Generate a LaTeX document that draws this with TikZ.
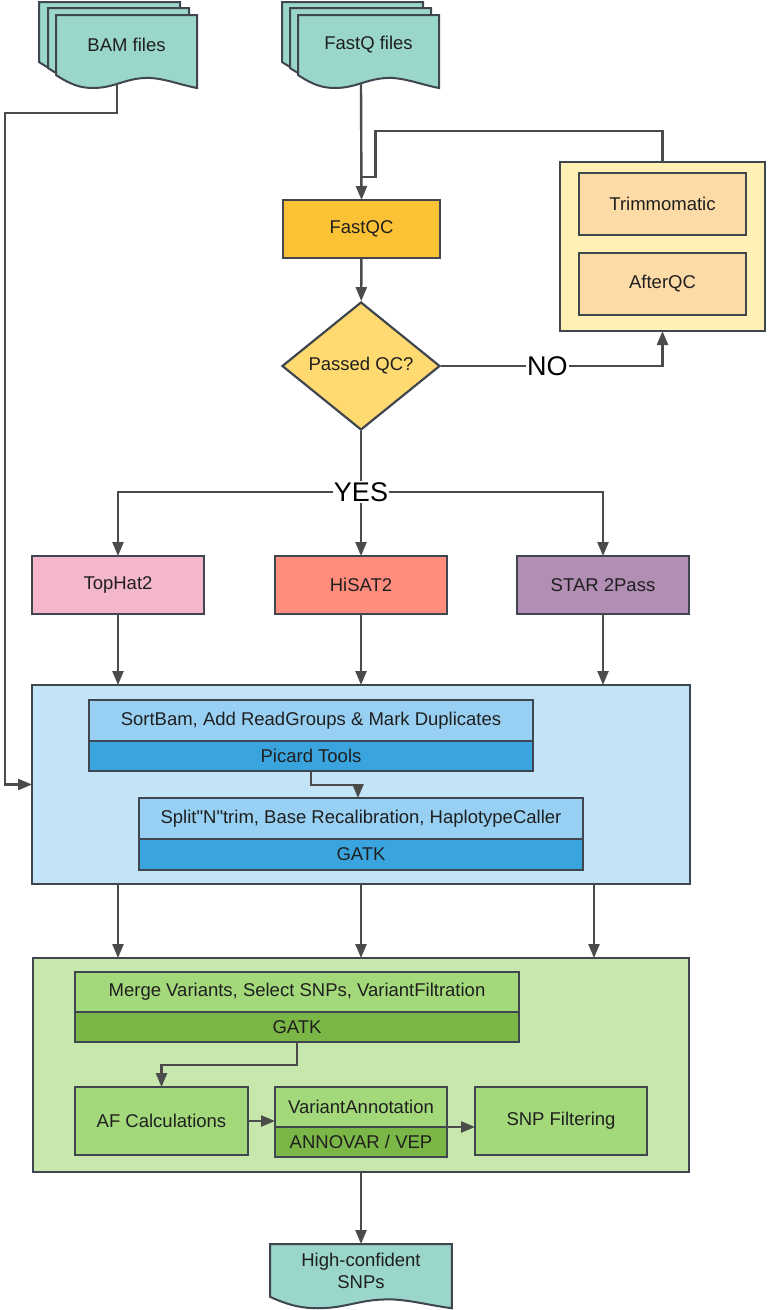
\documentclass[tikz,border=0pt]{standalone}
\usepackage{fontspec}
\setmainfont{Liberation Sans}[Ligatures=TeXOff]
\usetikzlibrary{arrows.meta,positioning,shapes.geometric}

\definecolor{edge}{HTML}{3F4650}
\definecolor{wire}{HTML}{4B4B4B}
\definecolor{docteal}{HTML}{9AD6CA}
\definecolor{qcorange}{HTML}{FCC236}
\definecolor{qcyellow}{HTML}{FFDA70}
\definecolor{trimpale}{HTML}{FFF1B5}
\definecolor{trimpeach}{HTML}{FDDBA7}
\definecolor{mappink}{HTML}{F3B6CA}
\definecolor{mapsalmon}{HTML}{FF8C7C}
\definecolor{mapviolet}{HTML}{B28EB5}
\definecolor{bluepale}{HTML}{C3E3F6}
\definecolor{bluelight}{HTML}{98D0F3}
\definecolor{bluedark}{HTML}{3AA4DE}
\definecolor{greenpale}{HTML}{C7E7AC}
\definecolor{greenlight}{HTML}{A3D97B}
\definecolor{greendark}{HTML}{7BB747}

% one wavy file sheet, 141 x 73 before scaling
\newcommand{\filesheet}[1]{\draw[docshape,#1] (0,0) -- (141,0) -- (141,73)
  .. controls (125,70) and (110,64) .. (95,63)
  .. controls (70,62) and (60,73) .. (37,73)
  .. controls (25,73) and (15,70) .. (0,60) -- cycle;}

\begin{document}
\begin{tikzpicture}[
    x=1pt, y=-1pt,
    box/.style={draw=edge, line width=2.2pt, outer sep=0pt, inner sep=2pt, align=center, text=black!88, font=\fontsize{18.5}{22}\selectfont},
    mapper/.style={box, minimum width=172pt, minimum height=58pt},
    trimbox/.style={box, fill=trimpeach, minimum width=167pt, minimum height=62pt},
    wide/.style={box, minimum width=444pt},
    stepbox/.style={box, fill=greenlight, minimum width=172pt, minimum height=68pt},
    decision/.style={diamond, draw=edge, line width=2.2pt, fill=qcyellow, inner sep=0pt, minimum width=158pt, minimum height=128pt, text=black!88, font=\fontsize{18.5}{22}\selectfont},
    docshape/.style={draw=edge, line width=2pt, fill=docteal, line join=miter},
    doctext/.style={align=center, inner sep=0pt, outer sep=0pt, text=black!88, font=\fontsize{18.5}{22}\selectfont},
    answer/.style={fill=white, inner sep=1pt, font=\fontsize{27}{30}\selectfont},
    link/.style={draw=wire, line width=2.4pt},
    arrow/.style={link, -{Triangle[length=14pt,width=11pt]}}
  ]
    \useasboundingbox (0,0) rectangle (771,1310);

    % input files
    \filesheet{shift={(39,2)}}
    \filesheet{shift={(48,8)}}
    \filesheet{shift={(56,15)}}
    \node[doctext, minimum width=141pt, minimum height=60pt] (bam) at (126.5,45) {BAM files};
    \filesheet{shift={(282,2)}}
    \filesheet{shift={(290,8)}}
    \filesheet{shift={(298,15)}}
    \node[doctext, minimum width=141pt, minimum height=60pt] (fastq) at (368.5,45) {FastQ files};
    \coordinate (bamout) at (117,84);
    \coordinate (fastqout) at (361,84);

    % quality control
    \node[box, fill=qcorange, minimum width=157pt, minimum height=58pt] (fastqc) at (361.5,229) {FastQC};
    \node[decision] (passed) at (361,366) {Passed QC?};
    \node[box, fill=trimpale, minimum width=205pt, minimum height=169pt] (trimgrp) at (662.5,246.5) {};
    \node[trimbox] (trim) at (662.5,204) {Trimmomatic};
    \node[trimbox, below=18pt of trim] (afterqc) {AfterQC};

    % aligners
    \node[mapper, fill=mappink] (tophat) at (118,585) {TopHat2};
    \node[mapper, fill=mapsalmon, right=71pt of tophat] (hisat) {HiSAT2};
    \node[mapper, fill=mapviolet, right=70pt of hisat] (star) {STAR 2Pass};

    % variant calling
    \node[box, fill=bluepale, minimum width=658pt, minimum height=199pt] (align) at (361,784.5) {};
    \node[wide, fill=bluelight, minimum height=41pt] (sortbam) at (311,720.5) {SortBam, Add ReadGroups \& Mark Duplicates};
    \node[wide, fill=bluedark, minimum height=30pt, below=0pt of sortbam] (picard) {Picard Tools};
    \node[wide, fill=bluelight, minimum height=41pt] (split) at (361,818.5) {Split"N"trim, Base Recalibration, HaplotypeCaller};
    \node[wide, fill=bluedark, minimum height=31pt, below=0pt of split] (gatk) {GATK};

    % filtering
    \node[box, fill=greenpale, minimum width=656pt, minimum height=214pt] (filter) at (361,1065) {};
    \node[wide, fill=greenlight, minimum height=40pt] (merge) at (297,992) {Merge Variants, Select SNPs, VariantFiltration};
    \node[wide, fill=greendark, minimum height=30pt, below=0pt of merge] (gatkfilt) {GATK};
    \node[stepbox, minimum width=173pt] (afcalc) at (161.5,1121) {AF Calculations};
    \node[box, fill=greenlight, minimum width=172pt, minimum height=40pt] (varann) at (361,1107) {VariantAnnotation};
    \node[box, fill=greendark, minimum width=172pt, minimum height=30pt, below=0pt of varann] (annovar) {ANNOVAR / VEP};
    \node[stepbox] (snpfilt) at (561,1121) {SNP Filtering};

    % output
    \filesheet{shift={(270,1244)}, xscale=1.29, yscale=0.88}
    \node[doctext, minimum width=182pt, minimum height=53pt] (snps) at (361,1270.5) {High-confident\\SNPs};

    % connectors
    \draw[arrow] (fastqout) -- (fastqc.north);
    \coordinate (rejoin) at ([yshift=23pt]fastqc.north);
    \draw[link] (trimgrp.north) -- ++(0,-31) -| ([xshift=14pt]rejoin) -- (rejoin);
    \draw[arrow] (fastqc) -- (passed);
    \draw[arrow] (passed.east) -| node[answer, pos=0.24] {NO} (trimgrp.south);
    \node[answer] (yes) at (361,492) {YES};
    \draw[link] (passed.south) -- (yes.north);
    \draw[arrow] (yes.west) -| (tophat.north);
    \draw[arrow] (yes.east) -| (star.north);
    \draw[arrow] (yes.south) -- (hisat.north);
    \foreach \m in {tophat,hisat,star}
      \draw[arrow] (\m.south) -- (\m.south |- align.north);
    \draw[arrow] (bamout) -- ++(0,29) -| ([xshift=-27pt]align.west) -- (align.west);
    \draw[arrow] (picard.south) -- ++(0,14) -| ([xshift=-3pt]split.north);
    \foreach \dx in {-243,0,233}
      \draw[arrow] ([xshift=\dx pt]align.south) -- ([xshift=\dx pt]filter.north);
    \draw[arrow] (gatkfilt.south) -- ++(0,23) -| (afcalc.north);
    \draw[arrow] (afcalc.east) -- (afcalc.east -| varann.west);
    \draw[arrow] (annovar.north east) -- (annovar.north east -| snpfilt.west);
    \draw[arrow] (filter.south) -- (snps.north);
  \end{tikzpicture}
\end{document}
